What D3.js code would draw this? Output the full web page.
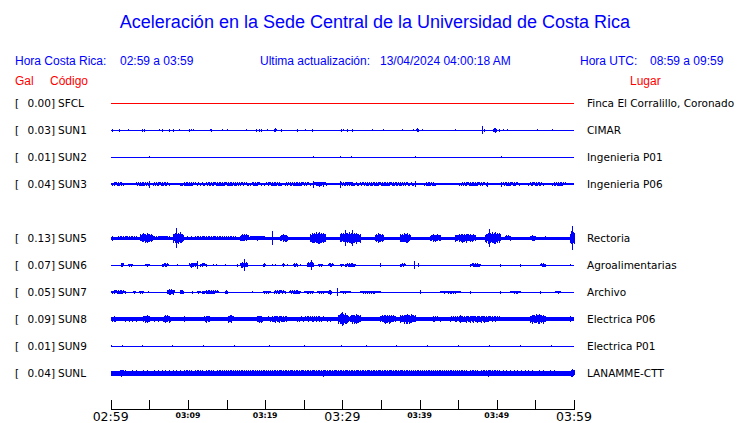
<!DOCTYPE html>
<html><head><meta charset="utf-8">
<script src="https://cdn.jsdelivr.net/npm/d3@7"></script>
<style>
html,body{margin:0;padding:0;background:#fff;}
svg{display:block;}
</style></head>
<body>
<script>
// ---------------- DATA ----------------
const titleText = "Aceleración en la Sede Central de la Universidad de Costa Rica";
const horaCR = "02:59 a 03:59";
const horaUTC = "08:59 a 09:59";
const ultimaAct = "13/04/2024 04:00:18 AM";

const slots = ["SFCL","SUN1","SUN2","SUN3","SUN4","SUN5","SUN6","SUN7","SUN8","SUN9","SUNL"];
const codes = ["SFCL","SUN1","SUN2","SUN3","SUN5","SUN6","SUN7","SUN8","SUN9","SUNL"];
const galValues = [0.00,0.03,0.01,0.04,0.13,0.07,0.05,0.09,0.01,0.04];
const places = ["Finca El Corralillo, Coronado","CIMAR","Ingenieria P01","Ingenieria P06","Rectoria","Agroalimentarias","Archivo","Electrica P06","Electrica P01","LANAMME-CTT"];
const traceColors = ["#ff0000","#0000ff","#0000ff","#0000ff","#0000ff","#0000ff","#0000ff","#0000ff","#0000ff","#0000ff"];
// background noise half-amplitude per station (relative units)
const noiseLevel = [0,0,0,1,1.5,0,0,2,0,2.5];

// time axis (minutes after 02:59)
const tickMinutes = [0,5,10,15,20,25,30,35,40,45,50,55,60];
const tickLabels = ["02:59","","03:09","","03:19","","03:29","","03:39","","03:49","","03:59"];
const majorLabels = ["02:59","03:29","03:59"];

// bursts per station: [startMinute, endMinute, halfAmplitude]
const burstsSFCL = [];
const burstsSUN1 = [[0.13,0.13,1.5],[1.1,1.1,1.5],[2.3,2.3,1],[4.1,4.1,1.5],[4.35,4.35,1.5],[6.3,6.3,1],[6.65,6.65,1.5],[7.6,7.6,1.5],[8.1,8.1,1.5],[8.9,8.9,1],[10.2,10.2,1.5],[10.4,10.4,1],[10.65,10.65,1],[12.8,13.0,2],[14.45,14.45,1],[15.05,15.05,1],[17.55,17.55,1],[18.8,18.8,1.5],[19.25,19.25,1.5],[19.5,19.5,1.5],[20.3,20.3,1],[21.2,21.45,2],[22.0,22.0,1.5],[24.1,24.1,1.5],[25.1,25.1,1],[26.1,26.1,1.5],[29.8,29.8,1.5],[30.05,30.05,1],[30.55,30.55,1.5],[31.2,31.2,1.5],[33.8,33.8,1],[35.3,35.3,1],[37.7,37.7,1],[39.1,39.1,1],[39.5,39.8,2],[40.3,40.3,1],[44.6,44.6,1],[48.05,48.05,4],[48.35,48.35,1.5],[49.5,49.9,2.5],[50.35,50.35,1.5],[50.85,50.85,1],[51.3,51.3,1],[55.2,55.2,1],[57.2,57.2,1]];
const burstsSUN2 = [[4.9,4.9,1],[26.15,26.15,1],[29.7,29.7,1],[31.1,31.1,1],[39.45,39.45,1],[50.5,50.5,1]];
const burstsSUN3 = [[0,1.6,2],[3.1,4.9,2],[4.9,4.9,3.5],[5.5,7.5,2],[9,11,2],[11.2,18,2],[18,19.5,2],[19.8,22.2,2],[22.5,25.9,2],[26.15,26.15,3.5],[26.2,27.9,2.5],[29.7,29.7,3.5],[29.8,31.5,2.2],[31.5,39.4,2],[39.45,39.45,3],[40.5,42,2],[45,48.7,2],[48.7,48.7,2.5],[50.5,50.5,2.5],[50.6,53,2],[54,56,2],[57,59,2]];
const burstsSUN5 = [[0,0.35,2.5],[0.4,3.7,2],[3.8,5.3,5],[5.4,8,2.2],[8.1,9.4,6],[8.45,8.45,10],[9.5,16.6,2],[16.75,17.8,4],[18,20,2.5],[20.85,20.85,7],[21.9,22.8,4],[25.8,27.8,6],[29.7,32.3,6],[30.35,30.35,8],[31.25,31.25,8],[34.25,35.3,5],[37.5,38.8,5],[41.4,42.7,4],[44.6,47.2,4.5],[48.5,50.4,6],[49.0,49.0,9],[51.1,51.7,3],[54.3,55,3],[56.3,56.3,2],[59.5,60,8],[59.8,59.8,12]];
const burstsSUN6 = [[1.3,1.65,2.5],[2.25,2.7,1.5],[4.45,5.0,1.5],[6.6,7.45,2],[8.55,8.55,1],[10.2,11.15,2.5],[11.2,11.2,4],[11.55,12.35,2],[13.2,13.2,1],[13.65,13.65,1],[14.8,14.8,1],[16.3,16.3,1.5],[16.75,17.7,3],[17.25,17.25,6],[19.7,20,2],[20.85,20.85,1],[21.3,21.3,1],[22.15,22.45,2],[22.8,22.8,1],[23.65,24.1,2],[24.5,24.5,1],[25.4,26.25,3],[25.9,25.9,5],[26.9,27.35,1.5],[28.2,28.85,2],[29.7,30.1,1.5],[30.35,31.65,2],[34.9,34.9,2],[37.5,38.1,2],[39.3,39.3,4],[39.8,39.8,2],[46.5,47.8,2],[50.4,50.4,1.5],[53,53,1.5],[55.6,56.3,2],[59.5,59.5,1]];
const burstsSUN7 = [[0.1,1.85,2],[2.85,3.15,1.5],[3.7,4.2,1.5],[4.8,4.8,1],[7.25,8.2,3],[9,9.35,2.5],[10.5,10.5,1.5],[11.2,11.55,1.5],[11.8,13.95,2],[14.8,15.1,2.5],[18.25,18.25,1],[19.75,20.65,1.5],[21.15,22.6,2],[23.15,24.5,2],[25.05,26.25,1.5],[26.7,28,1.5],[28.2,28.5,2.5],[29.3,29.3,4],[29.7,31,1.5],[32.3,34.9,1.5],[40,40,2],[42.6,45.2,1.5],[46.5,46.5,1.5],[50.4,50.4,1.5],[51.7,53,1.5],[55.6,55.6,1.5],[57.5,58.2,1.5]];
const burstsSUN8 = [[0,0.8,3],[0.8,4.2,2.5],[4.2,5.1,4],[5.1,6.8,2.5],[6.8,7.7,4],[9.2,9.6,3],[11.95,12.85,3.5],[15,15.9,4],[18.9,19.55,4],[20.4,22.8,3.5],[23.6,28.4,3],[29.45,30.75,6],[29.9,29.9,7],[31,32.3,5],[34.9,36.8,4.5],[37.5,39.4,5],[41.4,42.7,3],[44,50.4,3.5],[45.3,45.3,4],[54.3,56.3,5],[59.5,59.5,3]];
const burstsSUN9 = [[0.1,0.1,1],[1.5,1.5,1],[4,4,1],[8,8,1],[12,12,1],[16,16,1],[20.5,20.5,1],[25,25,1],[29.8,29.8,1],[33,33,1],[37,37,1],[41,41,1],[45,45,1],[49,49,1],[53,53,1],[57,57,1]];
const burstsSUNL = [[0,60,3.2],[1,2,3.5],[27,28,3.5],[48,50,3.5],[59.5,60,4]];
const allBursts = [burstsSFCL,burstsSUN1,burstsSUN2,burstsSUN3,burstsSUN5,burstsSUN6,burstsSUN7,burstsSUN8,burstsSUN9,burstsSUNL];

// ---------------- DRAW ----------------
const W = 740, H = 423;
const svg = d3.select("body").append("svg").attr("width", W).attr("height", H);

const x = d3.scaleLinear().domain([0, 60]).range([110.7, 574]);
const y = d3.scalePoint().domain(slots).range([103, 373]);
const amp = d3.scaleLinear().domain([0, 10]).range([0, 10]);

const sans = "'Liberation Sans', Arial, sans-serif";
const dv = "'DejaVu Sans', sans-serif";

svg.append("text").attr("x", 375).attr("y", 28).attr("text-anchor", "middle")
  .attr("font-family", sans).attr("font-size", 18).attr("fill", "#0000ff").text(titleText);

const hdr = svg.append("g").attr("font-family", sans).attr("font-size", 12).attr("fill", "#0000ff");
hdr.append("text").attr("x", 15).attr("y", 65).text("Hora Costa Rica:");
hdr.append("text").attr("x", 120).attr("y", 65).text(horaCR);
hdr.append("text").attr("x", 260).attr("y", 65).text("Ultima actualización:");
hdr.append("text").attr("x", 380).attr("y", 65).text(ultimaAct);
hdr.append("text").attr("x", 580).attr("y", 65).text("Hora UTC:");
hdr.append("text").attr("x", 650).attr("y", 65).text(horaUTC);

const red = svg.append("g").attr("font-family", sans).attr("font-size", 12).attr("fill", "#ff0000");
red.append("text").attr("x", 15).attr("y", 85).text("Gal");
red.append("text").attr("x", 50).attr("y", 85).text("Código");
red.append("text").attr("x", 630).attr("y", 85).text("Lugar");

// hairline texture (drawing style only): relative heights of successive pixel columns
const texture = [1, 0.75, 0.9, 0.7, 1, 0.8, 0.85, 0.7, 0.95, 0.75, 0.9];

function hairlines(d) {
  const x0 = Math.round(x(d[0])), x1 = Math.round(x(d[1]));
  const a = amp(d[2]);
  if (x1 - x0 < 1) return [{px: x0, h: a}];
  const out = [];
  for (let px = x0; px <= x1; px++) {
    const t = (px - x0) / (x1 - x0);
    const env = 0.75 + 0.25 * Math.sin(Math.PI * t);
    out.push({px, h: Math.max(0.5, a * env * texture[px % texture.length])});
  }
  return out;
}

// traces
codes.forEach((c, i) => {
  const cy = y(c);
  const g = svg.append("g").attr("fill", traceColors[i]).attr("shape-rendering", "crispEdges");
  const n = noiseLevel[i];
  const bh = Math.max(1, Math.round(2 * amp(n)));
  g.append("rect").attr("x", x(0)).attr("width", x(60) - x(0))
    .attr("y", Math.round(cy - bh / 2)).attr("height", bh);
  const lines = allBursts[i].flatMap(hairlines);
  g.selectAll("rect.b").data(lines).join("rect").attr("class", "b")
    .attr("x", d => d.px).attr("width", 1)
    .attr("y", d => Math.round(cy - d.h)).attr("height", d => Math.max(1, Math.round(2 * d.h)));

  const lt = svg.append("g").attr("font-family", dv).attr("font-size", 10.5).attr("fill", "#000");
  lt.append("text").attr("x", 15).attr("y", cy + 4).text("[");
  lt.append("text").attr("x", 55).attr("y", cy + 4).attr("text-anchor", "end").text(galValues[i].toFixed(2) + "]");
  lt.append("text").attr("x", 58).attr("y", cy + 4).text(c);
  lt.append("text").attr("x", 587).attr("y", cy + 4).text(places[i]);
});

// axis
const ax = svg.append("g").attr("shape-rendering", "crispEdges");
ax.append("line").attr("x1", x(0)).attr("x2", x(60)).attr("y1", 409.5).attr("y2", 409.5).attr("stroke", "#000");
ax.selectAll("line.t").data(tickMinutes).join("line").attr("class", "t")
  .attr("x1", d => Math.round(x(d)) + 0.5).attr("x2", d => Math.round(x(d)) + 0.5)
  .attr("y1", 400).attr("y2", 409.5).attr("stroke", "#000");
ax.selectAll("text").data(tickMinutes.map((m, i) => ({m, l: tickLabels[i]})).filter(d => d.l))
  .join("text")
  .attr("x", d => x(d.m)).attr("text-anchor", "middle")
  .attr("y", d => majorLabels.includes(d.l) ? 420.5 : 418)
  .attr("font-family", dv)
  .attr("font-size", d => majorLabels.includes(d.l) ? 12.5 : 7.8)
  .attr("font-weight", d => majorLabels.includes(d.l) ? "normal" : "bold")
  .attr("fill", "#000")
  .text(d => d.l);
</script>
</body></html>
